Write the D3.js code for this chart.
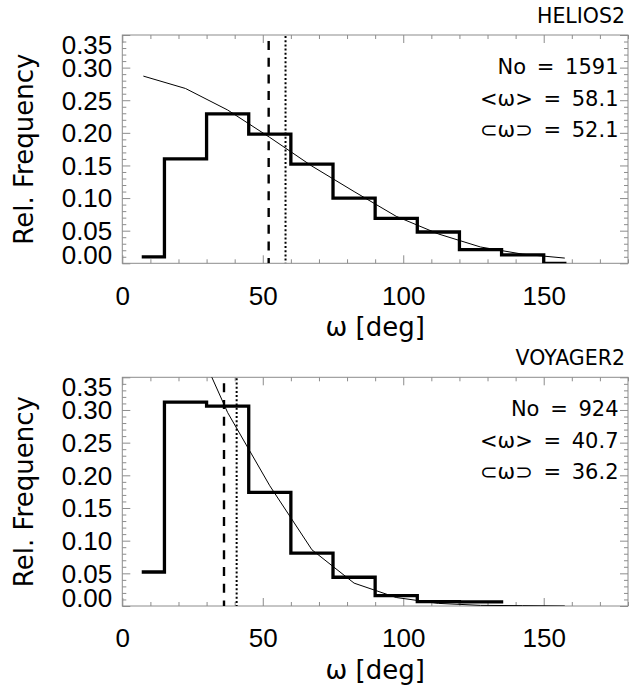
<!DOCTYPE html>
<html>
<head>
<meta charset="utf-8">
<script src="https://cdn.jsdelivr.net/npm/d3@7"></script>
<style>
  body { margin: 0; background: #fff; }
  svg { display: block; font-family: "DejaVu Sans", sans-serif; }
</style>
</head>
<body>
<div id="chart"></div>
<script>
// HELIOS2 histogram (bin edges in deg, relative frequency per bin)
const heliosEdges = [7.5, 15, 30, 45, 60, 75, 90, 105, 120, 135, 150, 157.5];
const heliosFreq = [0.010, 0.160, 0.229, 0.198, 0.152, 0.100, 0.069, 0.048, 0.021, 0.013, 0.000];
// thin fitted curve
const heliosFitX = [7.5, 22.5, 37.5, 52.5, 67.5, 82.5, 97.5, 112.5, 127.5, 142.5, 157.5];
const heliosFitY = [0.287, 0.268, 0.235, 0.193, 0.149, 0.110, 0.072, 0.045, 0.025, 0.014, 0.008];
const heliosStats = { n: 1591, mean: 58.1, median: 52.1 };

// VOYAGER2
const voyagerEdges = [7.5, 15, 30, 45, 60, 75, 90, 105, 120, 135];
const voyagerFreq = [0.052, 0.312, 0.306, 0.174, 0.081, 0.044, 0.016, 0.0066, 0.0062];
const voyagerFitX = [7.5, 22.5, 37.5, 52.5, 67.5, 82.5, 97.5, 112.5, 127.5, 142.5, 157.5];
const voyagerFitY = [0.58, 0.44, 0.296, 0.184, 0.086, 0.035, 0.013, 0.004, 0.001, 0.0005, 0];
const voyagerStats = { n: 924, mean: 40.7, median: 36.2 };

// axis ticks
const xMajor = [0, 50, 100, 150];
const xMinor = d3.range(0, 190, 10).filter(v => v % 50 !== 0);
const yMajor = [0, 0.05, 0.10, 0.15, 0.20, 0.25, 0.30, 0.35];
const yMinor = d3.range(0, 36).map(i => i / 100).filter(v => Math.round(v * 100) % 5 !== 0);

const svgWidth = 632;
const svgHeight = 692;
const left = 122.3, right = 628;
const frameColor = "#8c8c8c";

const svg = d3.select("#chart").append("svg")
    .attr("width", svgWidth)
    .attr("height", svgHeight);

const x = d3.scaleLinear().domain([0, 180]).range([left, right]);

function drawPanel(id, top, bottom, name, edges, freq, fitX, fitY, stats) {
    const y = d3.scaleLinear().domain([0, 0.35]).range([bottom, top]);
    const g = svg.append("g");

    g.append("clipPath").attr("id", "clip" + id)
        .append("rect")
        .attr("x", left).attr("y", top)
        .attr("width", right - left).attr("height", bottom - top);

    // inward ticks on all four sides
    function ticks(axis, values, size, tr) {
        const a = g.append("g").attr("transform", tr)
            .call(axis.tickValues(values).tickSize(size).tickSizeOuter(0).tickFormat(""));
        a.select(".domain").remove();
        a.selectAll("line").attr("stroke", frameColor);
    }
    ticks(d3.axisTop(x), xMajor, 8, `translate(0,${bottom})`);
    ticks(d3.axisTop(x), xMinor, 4, `translate(0,${bottom})`);
    ticks(d3.axisBottom(x), xMajor, 8, `translate(0,${top})`);
    ticks(d3.axisBottom(x), xMinor, 4, `translate(0,${top})`);
    ticks(d3.axisRight(y), yMajor, 8, `translate(${left},0)`);
    ticks(d3.axisRight(y), yMinor, 4, `translate(${left},0)`);
    ticks(d3.axisLeft(y), yMajor, 8, `translate(${right},0)`);
    ticks(d3.axisLeft(y), yMinor, 4, `translate(${right},0)`);

    g.append("rect")
        .attr("x", left).attr("y", top)
        .attr("width", right - left).attr("height", bottom - top)
        .attr("fill", "none")
        .attr("stroke", frameColor)
        .attr("stroke-width", 1);

    // tick labels
    const yl = g.append("g").attr("transform", `translate(${left},0)`)
        .call(d3.axisLeft(y).tickValues(yMajor).tickSize(0).tickPadding(10).tickFormat(d3.format(".2f")));
    yl.select(".domain").remove();
    yl.selectAll("text").style("font-size", "26px").attr("fill", "#000")
        .attr("dy", d => d === 0.35 ? "0.70em" : d === 0 ? "0.02em" : "0.34em");

    const xl = g.append("g").attr("transform", `translate(0,${bottom})`)
        .call(d3.axisBottom(x).tickValues(xMajor).tickSize(0).tickPadding(23));
    xl.select(".domain").remove();
    xl.selectAll("text").style("font-size", "26px").attr("fill", "#000");

    // axis titles
    g.append("text")
        .attr("x", (left + right) / 2)
        .attr("y", bottom + 73)
        .attr("text-anchor", "middle")
        .style("font-size", "26px")
        .text("ω [deg]");

    g.append("text")
        .attr("transform", `translate(33,${(top + bottom) / 2}) rotate(-90)`)
        .attr("text-anchor", "middle")
        .style("font-size", "26px")
        .text("Rel. Frequency");

    g.append("text")
        .attr("x", 625)
        .attr("y", top - 12)
        .attr("text-anchor", "end")
        .style("font-size", "20.5px")
        .text(name);

    // data
    const plot = g.append("g").attr("clip-path", `url(#clip${id})`);

    const steps = [];
    freq.forEach((v, i) => {
        steps.push([edges[i], v]);
        steps.push([edges[i + 1], v]);
    });
    const line = d3.line().x(d => x(d[0])).y(d => y(d[1]));

    plot.append("path")
        .datum(fitX.map((v, i) => [v, fitY[i]]))
        .attr("d", line)
        .attr("fill", "none")
        .attr("stroke", "#000")
        .attr("stroke-width", 1);

    plot.append("path")
        .datum(steps)
        .attr("d", line)
        .attr("fill", "none")
        .attr("stroke", "#000")
        .attr("stroke-width", 3.3)
        .attr("stroke-linejoin", "miter")
        .attr("stroke-linecap", "square");

    plot.append("line")
        .attr("x1", x(stats.median)).attr("x2", x(stats.median))
        .attr("y1", top + 6).attr("y2", bottom)
        .attr("stroke", "#000")
        .attr("stroke-width", 2.4)
        .attr("stroke-dasharray", "9,7.7");

    plot.append("line")
        .attr("x1", x(stats.mean)).attr("x2", x(stats.mean))
        .attr("y1", top + 1).attr("y2", bottom)
        .attr("stroke", "#000")
        .attr("stroke-width", 2)
        .attr("stroke-dasharray", "2,2.2");

    // statistics
    const lines = [`No = ${stats.n}`, `<ω> = ${stats.mean.toFixed(1)}`, `⊂ω⊃ = ${stats.median.toFixed(1)}`];
    g.selectAll(".stat")
        .data(lines)
        .enter().append("text")
        .attr("class", "stat")
        .attr("x", 618.5)
        .attr("y", (d, i) => top + 39 + i * 31.5)
        .attr("text-anchor", "end")
        .style("font-size", "21px")
        .style("word-spacing", "4px")
        .text(d => d);
}

drawPanel(1, 35, 263.3, "HELIOS2", heliosEdges, heliosFreq, heliosFitX, heliosFitY, heliosStats);
drawPanel(2, 377.3, 606, "VOYAGER2", voyagerEdges, voyagerFreq, voyagerFitX, voyagerFitY, voyagerStats);
</script>
</body>
</html>
